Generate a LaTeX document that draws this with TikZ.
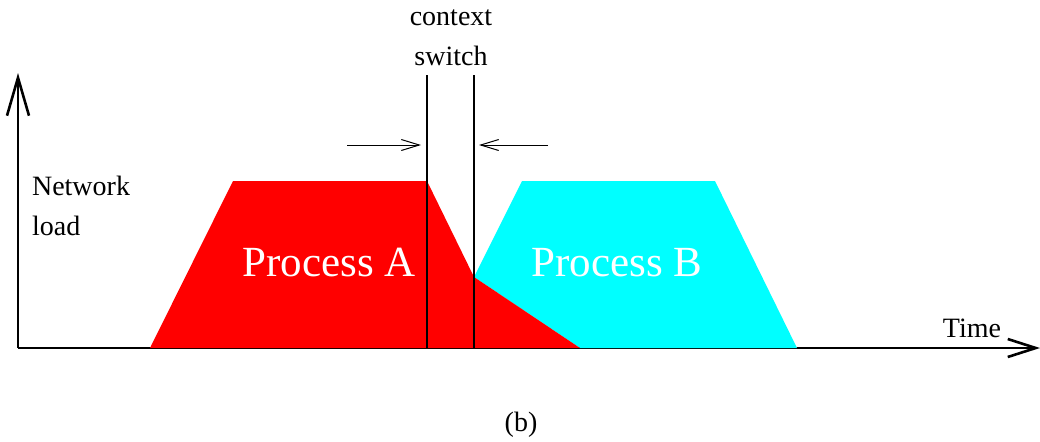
\documentclass[tikz,border=0pt]{standalone}
\usepackage{fontspec}
\setmainfont{Liberation Serif}
\usetikzlibrary{arrows.meta}

\begin{document}
\begin{tikzpicture}[x=0.5pt,y=-0.5pt]
  \definecolor{procA}{HTML}{FF0000}
  \definecolor{procB}{HTML}{00FFFF}
  \tikzset{
    axis/.style={line width=1.3pt},
    marker/.style={line width=1.1pt},
    pointer/.style={line width=0.5pt,-{Straight Barb[length=9pt,width=5.5pt]}},
    lbl/.style={font=\fontsize{14}{20}\selectfont},
    plbl/.style={font=\fontsize{21.5}{24}\selectfont,text=white}
  }
  \useasboundingbox (0,0) rectangle (1040,441);

  % axes
  \coordinate (o) at (18,348);
  \coordinate (ytop) at (18,73);
  \coordinate (xend) at (1040,348);
  \draw[axis,-{Straight Barb[length=19pt,width=11pt]}] (o) -- (ytop);
  \draw[axis,-{Straight Barb[length=14pt,width=9pt]}] (o) -- (xend);

  % load profiles
  \coordinate (cut) at (474,277);
  \fill[procB] (cut) -- (522,181) -- (715,181) -- (797,348) -- (580,348) -- cycle;
  \fill[procA] (150,348) -- (233,181) -- (427,181) -- (cut) -- (580,348) -- cycle;

  % context switch markers
  \foreach \i/\xx in {a/427,b/474}
  {
    \coordinate (top\i) at (\xx,75);
    \coordinate (bot\i) at (\xx,348);
    \draw[marker] (top\i) -- (bot\i);
  }
  \coordinate (la) at (347,145);
  \coordinate (ha) at (421,145);
  \coordinate (lb) at (548,145);
  \coordinate (hb) at (479,145);
  \draw[pointer] (la) -- (ha);
  \draw[pointer] (lb) -- (hb);

  % labels
  \node[lbl,align=center] (cs) at (451,38) {context\\switch};
  \node[lbl,align=left,anchor=west] (nl) at (25,206) {Network\\load};
  \node[plbl] (pa) at (329,263) {Process A};
  \node[plbl] (pb) at (617,263) {Process B};
  \node[lbl] (tm) at (972,328) {Time};
  \node[lbl] (cap) at (521,425) {(b)};
\end{tikzpicture}
\end{document}
